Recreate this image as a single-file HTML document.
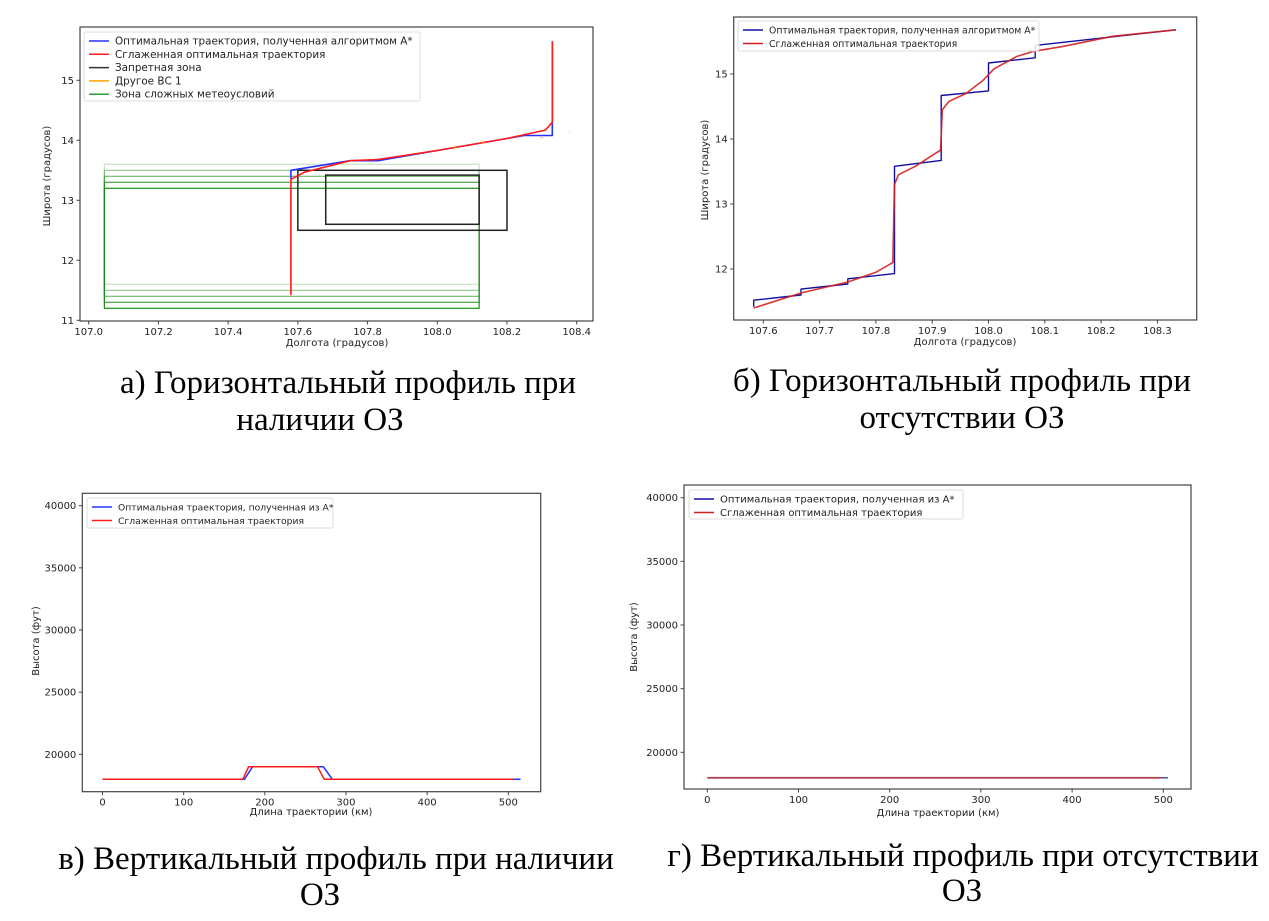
<!DOCTYPE html>
<html><head><meta charset="utf-8">
<style>
html,body{margin:0;padding:0;background:#fff;width:1269px;height:921px;overflow:hidden}
svg{display:block}
.cap{font-family:"Liberation Serif","DejaVu Serif",serif;font-size:33px;fill:#000}
.tk{font-family:"DejaVu Sans","Liberation Sans",sans-serif;font-size:10px;fill:#222}
.lg{font-family:"DejaVu Sans","Liberation Sans",sans-serif;fill:#222}
</style></head>
<body>
<svg id="root" xmlns="http://www.w3.org/2000/svg" width="1269" height="921" viewBox="0 0 1269 921">
<text class="cap" x="348" y="393" text-anchor="middle">а) Горизонтальный профиль при</text>
<text class="cap" x="320" y="430" text-anchor="middle">наличии ОЗ</text>
<text class="cap" x="962" y="391" text-anchor="middle">б) Горизонтальный профиль при</text>
<text class="cap" x="962" y="428" text-anchor="middle">отсутствии ОЗ</text>
<text class="cap" x="336" y="869" text-anchor="middle">в) Вертикальный профиль при наличии</text>
<text class="cap" x="320" y="905" text-anchor="middle">ОЗ</text>
<text class="cap" x="963" y="866" text-anchor="middle">г) Вертикальный профиль при отсутствии</text>
<text class="cap" x="962" y="901" text-anchor="middle">ОЗ</text>
</svg>
<script>
// ---- Chart A data ----
const aXTicks = [107.0,107.2,107.4,107.6,107.8,108.0,108.2,108.4];
const aYTicks = [11,12,13,14,15];
const aBlueX = [107.58,107.58,107.75,107.83,108.0,108.2,108.25,108.33,108.33];
const aBlueY = [13.35,13.5,13.66,13.66,13.83,14.03,14.08,14.08,15.65];
const aRedX = [107.58,107.58,107.62,107.75,107.83,108.0,108.2,108.31,108.33,108.33];
const aRedY = [11.42,13.35,13.47,13.66,13.68,13.83,14.03,14.17,14.3,15.65];
const aGreenX0 = [107.045,107.045,107.045,107.045,107.045];
const aGreenX1 = [108.12,108.12,108.12,108.12,108.12];
const aGreenY0 = [11.2,11.3,11.4,11.5,11.6];
const aGreenY1 = [13.2,13.3,13.4,13.5,13.6];
const aGreenAlpha = [1,0.8,0.6,0.45,0.25];
const aBlackX0 = [107.6,107.68];
const aBlackX1 = [108.2,108.12];
const aBlackY0 = [12.5,12.6];
const aBlackY1 = [13.5,13.42];
const aOtherX = [108.05,108.13,108.3,108.38];
const aOtherY = [13.88,13.96,14.05,14.13];
// ---- Chart B data ----
const bXTicks = [107.6,107.7,107.8,107.9,108.0,108.1,108.2,108.3];
const bYTicks = [12,13,14,15];
const bBlueX = [107.583,107.583,107.667,107.667,107.75,107.75,107.833,107.833,107.916,107.916,108.0,108.0,108.083,108.083,108.333];
const bBlueY = [11.42,11.52,11.6,11.69,11.77,11.85,11.93,13.58,13.67,14.67,14.74,15.17,15.25,15.44,15.68];
const bRedX = [107.583,107.667,107.75,107.8,107.83,107.833,107.84,107.87,107.915,107.918,107.93,107.96,107.99,108.01,108.05,108.08,108.13,108.22,108.333];
const bRedY = [11.4,11.63,11.8,11.95,12.1,13.3,13.45,13.58,13.83,14.45,14.58,14.7,14.9,15.08,15.27,15.35,15.42,15.58,15.68];
// ---- Chart C data ----
const cXTicks = [0,100,200,300,400,500];
const cYTicks = [20000,25000,30000,35000,40000];
const cBlueX = [0,175,185,272,283,515];
const cBlueY = [18000,18000,19000,19000,18000,18000];
const cRedX = [0,173,180,265,273,506];
const cRedY = [18000,18000,19000,19000,18000,18000];
// ---- Chart D data ----
const dXTicks = [0,100,200,300,400,500];
const dYTicks = [20000,25000,30000,35000,40000];
const dBlueX = [0,505];
const dBlueY = [18000,18000];
const dRedX = [0,497];
const dRedY = [18000,18000];

const NS='http://www.w3.org/2000/svg';
const root=document.getElementById('root');
function mk(tag,attrs,parent){const e=document.createElementNS(NS,tag);for(const k in attrs)e.setAttribute(k,attrs[k]);(parent||root).appendChild(e);return e;}
function lin(d0,p0,d1,p1){return v=>p0+(v-d0)*(p1-p0)/(d1-d0);}

function axes(cfg){
  const g=mk('g',{});
  
  
  const fr=mk('rect',{x:cfg.L,y:cfg.T,width:cfg.R-cfg.L,height:cfg.B-cfg.T,fill:'none',stroke:'#444','stroke-width':1.2},g);
  
  
  cfg.xt.forEach(v=>{const x=cfg.sx(v);
    const l=mk('line',{x1:x,x2:x,y1:cfg.B,y2:cfg.B+3.5,stroke:'#444'},g);
    
    
    const t=mk('text',{x:x,y:cfg.B+14,'text-anchor':'middle',class:'tk'},g);t.textContent=cfg.xf(v);
    
    
  });
  cfg.yt.forEach(v=>{const y=cfg.sy(v);
    const l=mk('line',{x1:cfg.L-3.5,x2:cfg.L,y1:y,y2:y,stroke:'#444'},g);
    
    
    const t=mk('text',{x:cfg.L-6,y:y+3.5,'text-anchor':'end',class:'tk'},g);t.textContent=cfg.yf(v);
    
    
  });
  const xt=mk('text',{x:cfg.xtx,y:cfg.xty,'text-anchor':'middle',class:'tk'},g);xt.textContent=cfg.xtitle;
  
  
  const yt=mk('text',{x:0,y:0,'text-anchor':'middle',class:'tk',transform:`translate(${cfg.ytx},${cfg.yty}) rotate(-90)`},g);yt.textContent=cfg.ytitle;
  
  
  return g;
}
function line(g,xs,ys,sx,sy,color,w,name,op){
  const pts=xs.map((x,i)=>sx(x).toFixed(1)+','+sy(ys[i]).toFixed(1)).join(' ');
  const p=mk('polyline',{points:pts,fill:'none',stroke:color,'stroke-width':w,'stroke-opacity':op||1,'stroke-linejoin':'round'},g);
  
  
  return p;
}
function legend(g,x,y,w,h,fs,items){
  const lg=mk('g',{},g);
  
  
  mk('rect',{x:x,y:y,width:w,height:h,rx:2,fill:'#fff','fill-opacity':0.85,stroke:'#ddd'},lg);
  items.forEach((it,i)=>{const yy=y+9+i*it.step;
    const e=mk('g',{},lg);
    
    
    mk('line',{x1:x+5,x2:x+25,y1:yy,y2:yy,stroke:it.c,'stroke-width':1.5},e);
    const t=mk('text',{x:x+31,y:yy+3.5,class:'lg','font-size':fs},e);t.textContent=it.t;
  });
}
function rect(g,x0,x1,y0,y1,sx,sy,color,op,name,w){
  const r=mk('rect',{x:sx(x0),y:sy(y1),width:sx(x1)-sx(x0),height:sy(y0)-sy(y1),fill:'none',stroke:color,'stroke-opacity':op,'stroke-width':w},g);
  
  
}

// Chart A
(function(){
  const sx=lin(107,88.7,108.4,576.7), sy=lin(15,80.3,11,320.3);
  const g=axes({name:'chart-a-horizontal-with-zone',L:80,R:593,T:27,B:321,sx,sy,xt:aXTicks,yt:aYTicks,xf:v=>v.toFixed(1),yf:v=>v,
    xtitle:'Долгота (градусов)',xtx:337,xty:346,ytitle:'Широта (градусов)',ytx:50,yty:176});
  for(let i=0;i<aGreenX0.length;i++) rect(g,aGreenX0[i],aGreenX1[i],aGreenY0[i],aGreenY1[i],sx,sy,'#1a8a1a',aGreenAlpha[i],'weather-zone-rect',1.2);
  for(let i=0;i<aBlackX0.length;i++) rect(g,aBlackX0[i],aBlackX1[i],aBlackY0[i],aBlackY1[i],sx,sy,'#222',1,'forbidden-zone-rect',1.5);
  line(g,aBlueX,aBlueY,sx,sy,'#2233ff',1.6,'astar-trajectory');
  line(g,aRedX,aRedY,sx,sy,'#ff1a1a',1.6,'smoothed-trajectory');
  aOtherX.forEach((x,i)=>{const m=mk('text',{x:sx(x),y:sy(aOtherY[i])+3,'text-anchor':'middle',fill:'#ffa500','font-size':9,'fill-opacity':i==3?0.4:0.8},g);m.textContent='+';
    
    });
  legend(g,84,32,336,69,10.4,[{c:'#2233ff',t:'Оптимальная  траектория, полученная алгоритмом A*',step:13.3},{c:'#ff1a1a',t:'Сглаженная оптимальная траектория',step:13.3},{c:'#333',t:'Запретная зона',step:13.3},{c:'#ffa500',t:'Другое ВС 1',step:13.3},{c:'#2ca02c',t:'Зона сложных метеоусловий',step:13.3}]);
})();
// Chart B
(function(){
  const sx=lin(107.6,763.3,108.3,1157.4), sy=lin(15,74,12,269);
  const g=axes({name:'chart-b-horizontal-without-zone',L:733.7,R:1196.7,T:17,B:320,sx,sy,xt:bXTicks,yt:bYTicks,xf:v=>v.toFixed(1),yf:v=>v,
    xtitle:'Долгота (градусов)',xtx:965,xty:345,ytitle:'Широта (градусов)',ytx:708,yty:170});
  line(g,bBlueX,bBlueY,sx,sy,'#1010a0',1.4,'astar-trajectory');
  line(g,bRedX,bRedY,sx,sy,'#d02020',1.6,'smoothed-trajectory',0.9);
  legend(g,738,21,301,30,9.3,[{c:'#1010a0',t:'Оптимальная  траектория, полученная алгоритмом A*',step:13.5},{c:'#d02020',t:'Сглаженная оптимальная траектория',step:13.5}]);
})();
// Chart C
(function(){
  const sx=lin(0,102.5,500,508.3), sy=lin(40000,505.7,20000,754.3);
  const g=axes({name:'chart-c-vertical-with-zone',L:82.3,R:540.7,T:493.3,B:791.7,sx,sy,xt:cXTicks,yt:cYTicks,xf:v=>v,yf:v=>v,
    xtitle:'Длина траектории (км)',xtx:311,xty:815,ytitle:'Высота (фут)',ytx:39,yty:641});
  line(g,cBlueX,cBlueY,sx,sy,'#2233ff',1.5,'astar-altitude');
  line(g,cRedX,cRedY,sx,sy,'#ff1a1a',1.5,'smoothed-altitude');
  legend(g,87,498,246,30,9.2,[{c:'#2233ff',t:'Оптимальная траектория, полученная из A*',step:13.5},{c:'#ff1a1a',t:'Сглаженная оптимальная траектория',step:13.5}]);
})();
// Chart D
(function(){
  const sx=lin(0,707.3,500,1163.3), sy=lin(40000,497.7,20000,752.3);
  const g=axes({name:'chart-d-vertical-without-zone',L:684,R:1191,T:485,B:789,sx,sy,xt:dXTicks,yt:dYTicks,xf:v=>v,yf:v=>v,
    xtitle:'Длина траектории (км)',xtx:938,xty:816,ytitle:'Высота (фут)',ytx:637,yty:637});
  line(g,dBlueX,dBlueY,sx,sy,'#1010a0',1.2,'astar-altitude');
  line(g,dRedX,dRedY,sx,sy,'#c04040',1.8,'smoothed-altitude',0.85);
  legend(g,689,490,274,29,10,[{c:'#1010a0',t:'Оптимальная траектория, полученная из A*',step:13.5},{c:'#d02020',t:'Сглаженная оптимальная траектория',step:13.5}]);
})();
</script>
</body></html>
